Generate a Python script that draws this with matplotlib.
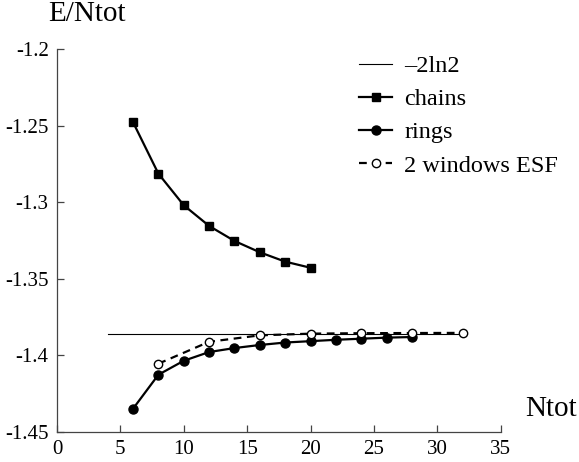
import numpy as np
import matplotlib.pyplot as plt

plt.rcParams['font.family'] = ['Liberation Serif', 'DejaVu Serif']
plt.rcParams['axes.unicode_minus'] = False

# data
n_chain = [6, 8, 10, 12, 14, 16, 18, 20]
e_chain = [-1.2478, -1.2814, -1.3020, -1.3155, -1.3253, -1.3327, -1.3388, -1.3428]

n_ring = [6, 8, 10, 12, 14, 16, 18, 20, 22, 24, 26, 28]
e_ring = [-1.4348, -1.4126, -1.4035, -1.3978, -1.3952, -1.3932, -1.3916, -1.3907,
          -1.3898, -1.3891, -1.3884, -1.3880]

n_esf = [8, 12, 16, 20, 24, 28, 32]
e_esf = [-1.4054, -1.3911, -1.3869, -1.3858, -1.3855, -1.3854, -1.3853]

n_ref = [4, 32]
e_ref = -2*np.log(2)

fig = plt.figure(figsize=(5.79, 4.62), dpi=100)
ax = fig.add_axes([0.0984, 0.0649, 0.7664, 0.8291])

ax.plot(n_ref, [e_ref, e_ref], color='black', lw=0.8, label='\u20132ln2')
ax.plot(n_chain, e_chain, color='black', lw=1.6, marker='s', ms=5.5, label='chains')
ax.plot(n_ring, e_ring, color='black', lw=1.6, marker='o', ms=6.5, label='rings')
ax.plot(n_esf, e_esf, color='black', lw=1.6, ls=(0, (3.5, 2.5)), marker='o', ms=6,
        mfc='white', mec='black', mew=1.0, label='2 windows ESF')

ax.set_xlim(0, 35)
ax.set_ylim(-1.45, -1.2)
ax.set_xticks([0, 5, 10, 15, 20, 25, 30, 35])
ax.set_yticks([-1.45, -1.4, -1.35, -1.3, -1.25, -1.2])
ax.set_yticklabels(['-1.45', '-1.4', '-1.35', '-1.3', '-1.25', '-1.2'])
ax.spines['top'].set_visible(False)
ax.spines['right'].set_visible(False)
for s in ['left', 'bottom']:
    ax.spines[s].set_color('#444444')
    ax.spines[s].set_linewidth(0.9)
ax.tick_params(direction='in', length=5, width=0.9, color='#444444',
               labelsize=15, pad=6)

fig.text(87/579, 1-14/462, 'E/Ntot', fontsize=21, ha='center', va='center')
fig.text(551/579, 1-409/462, 'Ntot', fontsize=21, ha='center', va='center')

fig.legend(loc='upper left', bbox_to_anchor=(359/579, 1-55/462), frameon=False,
           fontsize=17.5, handlelength=1.36, handletextpad=0.5, labelspacing=0.46,
           borderpad=0, borderaxespad=0)

fig.savefig('out.png', dpi=100)
